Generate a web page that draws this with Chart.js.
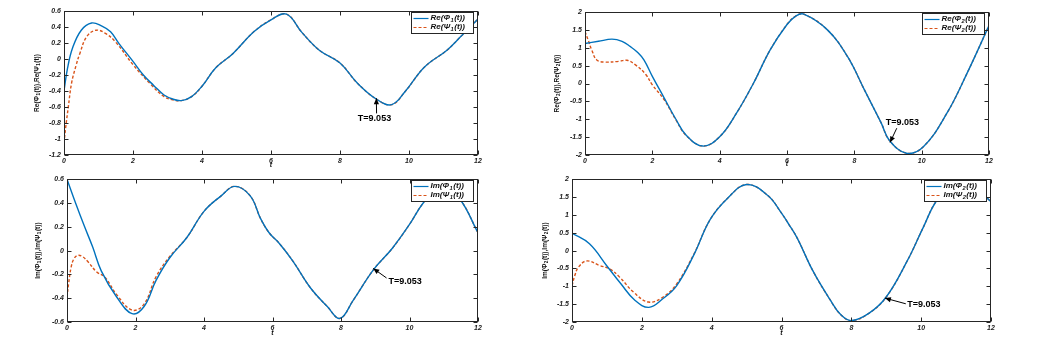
<!DOCTYPE html>
<html><head><meta charset="utf-8">
<script src="https://cdn.jsdelivr.net/npm/chart.js@4/dist/chart.umd.min.js"></script>
<style>
html,body{margin:0;padding:0;background:#fff;}
body{width:1052px;height:344px;position:relative;overflow:hidden;}
canvas{position:absolute;}
</style></head><body>
<canvas id="c1" style="left:0px;top:0px" width="500" height="172"></canvas>
<canvas id="c2" style="left:520px;top:0px" width="500" height="172"></canvas>
<canvas id="c3" style="left:0px;top:172px" width="500" height="172"></canvas>
<canvas id="c4" style="left:520px;top:172px" width="500" height="172"></canvas>
<script>
// ---------- data ----------
const xTicks = [0, 2, 4, 6, 8, 10, 12];
const yTicksRe1 = [-1.2, -1, -0.8, -0.6, -0.4, -0.2, 0, 0.2, 0.4, 0.6];
const yTicksRe2 = [-2, -1.5, -1, -0.5, 0, 0.5, 1, 1.5, 2];
const yTicksIm1 = [-0.6, -0.4, -0.2, 0, 0.2, 0.4, 0.6];
const yTicksIm2 = [-2, -1.5, -1, -0.5, 0, 0.5, 1, 1.5, 2];

const tRe1Phi = [0,0.1,0.25,0.5,0.8,1.1,1.35,1.6,2.0,2.3,2.6,2.9,3.15,3.4,3.7,4.0,4.4,4.9,5.5,6.0,6.45,6.9,7.4,8.0,8.5,9.05,9.5,9.9,10.45,11.1,11.5,12];
const re1Phi  = [-0.4,-0.12,0.14,0.36,0.45,0.41,0.34,0.19,-0.03,-0.2,-0.33,-0.45,-0.5,-0.52,-0.47,-0.34,-0.11,0.07,0.34,0.49,0.56,0.33,0.11,-0.05,-0.3,-0.5,-0.57,-0.4,-0.1,0.11,0.28,0.5];
const tRe1Psi = [0,0.05,0.125,0.22,0.35,0.46,0.66,0.93,1.2,1.5,2.0,2.5,2.9,3.15,3.4,3.7,4.0,4.4,4.9,5.5,6.0,6.45,6.9,7.4,8.0,8.5,9.05,9.5,9.9,10.45,11.1,11.5,12];
const re1Psi  = [-1.05,-0.85,-0.6,-0.3,-0.08,0.07,0.28,0.36,0.32,0.21,-0.07,-0.31,-0.47,-0.51,-0.52,-0.47,-0.34,-0.11,0.07,0.34,0.49,0.56,0.33,0.11,-0.05,-0.3,-0.5,-0.57,-0.4,-0.1,0.11,0.28,0.5];

const tRe2Phi = [0,0.4,0.8,1.1,1.35,1.55,1.75,2.0,2.35,2.7,3.0,3.5,4.0,4.5,5.0,5.5,6.0,6.25,6.5,7.2,7.8,8.3,8.8,9.05,9.55,10.05,10.75,11.35,12];
const re2Phi  = [1.12,1.18,1.24,1.18,1.03,0.88,0.66,0.2,-0.4,-1.0,-1.44,-1.75,-1.49,-0.83,0.0,0.94,1.65,1.88,1.94,1.5,0.75,-0.18,-1.11,-1.6,-1.95,-1.77,-0.83,0.29,1.62];
const tRe2Psi = [0,0.1,0.2,0.35,0.6,1.0,1.25,1.5,1.8,2.0,2.35,2.7,3.0,3.5,4.0,4.5,5.0,5.5,6.0,6.25,6.5,7.2,7.8,8.3,8.8,9.05,9.55,10.05,10.75,11.35,12];
const re2Psi  = [1.45,1.2,0.94,0.66,0.6,0.62,0.65,0.52,0.26,-0.04,-0.45,-1.02,-1.45,-1.75,-1.49,-0.83,0.0,0.94,1.65,1.88,1.94,1.5,0.75,-0.18,-1.11,-1.6,-1.95,-1.77,-0.83,0.29,1.62];

const tIm1Phi = [0,0.25,0.5,0.75,1.0,1.45,1.9,2.25,2.6,3.0,3.5,4.0,4.5,4.9,5.35,5.65,5.9,6.2,6.6,7.1,7.6,7.97,8.35,8.95,9.5,10.0,10.4,10.9,11.45,12];
const im1Phi  = [0.6,0.4,0.21,0.03,-0.17,-0.39,-0.53,-0.47,-0.25,-0.06,0.11,0.33,0.46,0.54,0.46,0.27,0.15,0.06,-0.09,-0.31,-0.47,-0.57,-0.42,-0.16,0.02,0.22,0.4,0.55,0.44,0.15];
const tIm1Psi = [0,0.05,0.12,0.2,0.31,0.45,0.6,0.87,1.1,1.45,1.9,2.25,2.6,3.0,3.5,4.0,4.5,4.9,5.35,5.65,5.9,6.2,6.6,7.1,7.6,7.97,8.35,8.95,9.5,10.0,10.4,10.9,11.45,12];
const im1Psi  = [-0.39,-0.27,-0.14,-0.07,-0.04,-0.05,-0.09,-0.18,-0.22,-0.37,-0.5,-0.45,-0.22,-0.05,0.11,0.33,0.46,0.54,0.46,0.27,0.15,0.06,-0.09,-0.31,-0.47,-0.57,-0.42,-0.16,0.02,0.22,0.4,0.55,0.44,0.15];

const tIm2Phi = [0,0.5,1.0,1.4,1.8,2.2,2.6,3.0,3.5,3.95,4.45,5.0,5.6,6.0,6.2,6.45,6.9,7.4,7.7,8.0,8.5,9.0,9.6,10.05,10.45,11.0,11.5,12];
const im2Phi  = [0.49,0.19,-0.43,-0.93,-1.39,-1.59,-1.35,-0.98,-0.1,0.86,1.46,1.85,1.55,1.05,0.75,0.35,-0.57,-1.39,-1.8,-1.96,-1.76,-1.3,-0.29,0.63,1.41,1.95,1.8,1.37];
const tIm2Psi = [0,0.08,0.18,0.42,0.8,1.09,1.37,1.76,2.19,2.61,3.0,3.5,3.95,4.45,5.0,5.6,6.0,6.2,6.45,6.9,7.4,7.7,8.0,8.5,9.0,9.6,10.05,10.45,11.0,11.5,12];
const im2Psi  = [-0.98,-0.7,-0.47,-0.29,-0.42,-0.52,-0.75,-1.16,-1.44,-1.3,-0.93,-0.08,0.86,1.46,1.85,1.55,1.05,0.75,0.35,-0.57,-1.39,-1.8,-1.96,-1.76,-1.3,-0.29,0.63,1.41,1.95,1.8,1.37];

// annotation anchors (data units): head, tail, text centre
const annRe1 = {hx:9.053, hy:-0.49, fx:9.06, fy:-0.68, tx:9.0,  ty:-0.75};
const annRe2 = {hx:9.06,  hy:-1.65, fx:9.26, fy:-1.25, tx:9.43, ty:-1.1};
const annIm1 = {hx:8.94,  hy:-0.15, fx:9.33, fy:-0.23, tx:9.87, ty:-0.26};
const annIm2 = {hx:8.96,  hy:-1.33, fx:9.56, fy:-1.49, tx:10.08,ty:-1.5};

// ---------- drawing ----------
const BLUE = '#0072BD', RED = '#D95319';
const pts = (t, v) => t.map((x, i) => ({x, y: v[i]}));

function drawRich(ctx, parts, x, y, size, italic, align) {
  const f = s => (italic ? 'italic ' : '') + 'bold ' + s + 'px "Liberation Sans", Arial, sans-serif';
  let w = 0;
  parts.forEach(p => { ctx.font = f(p[1] ? size * 0.72 : size); w += ctx.measureText(p[0]).width + (p[1] ? 1 : 0); });
  let cx = align === 'center' ? x - w / 2 : x;
  ctx.textBaseline = 'middle'; ctx.textAlign = 'left';
  parts.forEach(p => {
    ctx.font = f(p[1] ? size * 0.72 : size);
    if (p[1]) cx += 0.5;
    ctx.fillText(p[0], cx, y + (p[1] ? size * 0.3 : 0));
    cx += ctx.measureText(p[0]).width + (p[1] ? 0.5 : 0);
  });
}

const deco = {
  id: 'deco',
  afterDraw(chart, args, o) {
    const ctx = chart.ctx, a = chart.chartArea, xs = chart.scales.x, ys = chart.scales.y;
    ctx.save();
    ctx.strokeStyle = '#262626'; ctx.lineWidth = 1;
    const L = Math.round(a.left) + 0.5, R = Math.round(a.right) - 0.5, T = Math.round(a.top) + 0.5, B = Math.round(a.bottom) - 0.5;
    ctx.strokeRect(L, T, R - L, B - T);
    ctx.beginPath();
    xs.ticks.forEach(t => { const p = Math.round(xs.getPixelForValue(t.value)) + 0.5; ctx.moveTo(p, B); ctx.lineTo(p, B - 4); ctx.moveTo(p, T); ctx.lineTo(p, T + 4); });
    ys.ticks.forEach(t => { const p = Math.round(ys.getPixelForValue(t.value)) + 0.5; ctx.moveTo(L, p); ctx.lineTo(L + 4, p); ctx.moveTo(R, p); ctx.lineTo(R - 4, p); });
    ctx.stroke();
    ctx.fillStyle = '#111';
    ctx.font = 'italic bold 7px "Liberation Sans", Arial, sans-serif';
    ctx.textAlign = 'center'; ctx.textBaseline = 'middle';
    ctx.fillText('t', (a.left + a.right) / 2, a.bottom + o.tOff);
    ctx.save();
    ctx.translate(o.yTitleX, (a.top + a.bottom) / 2);
    ctx.rotate(-Math.PI / 2);
    drawRich(ctx, o.yTitle, 0, 0, 6.5, false, 'center');
    ctx.restore();
    // legend
    const bw = 62, bh = 21, bx = Math.round(a.right) - 5 - bw + 0.5, by = Math.round(a.top) + 1.5;
    ctx.fillStyle = '#fff'; ctx.fillRect(bx, by, bw, bh);
    ctx.strokeStyle = '#262626'; ctx.strokeRect(bx, by, bw, bh);
    ctx.lineWidth = 1.2;
    ctx.strokeStyle = BLUE; ctx.setLineDash([]);
    ctx.beginPath(); ctx.moveTo(bx + 2, by + 6); ctx.lineTo(bx + 17, by + 6); ctx.stroke();
    ctx.strokeStyle = RED; ctx.setLineDash([3, 2]);
    ctx.beginPath(); ctx.moveTo(bx + 2, by + 15); ctx.lineTo(bx + 17, by + 15); ctx.stroke();
    ctx.setLineDash([]);
    ctx.fillStyle = '#111';
    drawRich(ctx, o.leg[0], bx + 19, by + 5.5, 8, true, 'left');
    drawRich(ctx, o.leg[1], bx + 19, by + 14.5, 8, true, 'left');
    // annotation arrow + text
    const n = o.ann;
    const hx = xs.getPixelForValue(n.hx), hy = ys.getPixelForValue(n.hy);
    const fx = xs.getPixelForValue(n.fx), fy = ys.getPixelForValue(n.fy);
    ctx.strokeStyle = '#000'; ctx.lineWidth = 1;
    ctx.beginPath(); ctx.moveTo(fx, fy); ctx.lineTo(hx, hy); ctx.stroke();
    const ang = Math.atan2(hy - fy, hx - fx), al = 6, aw = 2.6;
    ctx.fillStyle = '#000';
    ctx.beginPath();
    ctx.moveTo(hx, hy);
    ctx.lineTo(hx - al * Math.cos(ang) + aw * Math.sin(ang), hy - al * Math.sin(ang) - aw * Math.cos(ang));
    ctx.lineTo(hx - al * Math.cos(ang) - aw * Math.sin(ang), hy - al * Math.sin(ang) + aw * Math.cos(ang));
    ctx.closePath(); ctx.fill();
    ctx.font = 'bold 9px "Liberation Sans", Arial, sans-serif';
    ctx.textAlign = 'center'; ctx.textBaseline = 'middle';
    ctx.fillText('T=9.053', xs.getPixelForValue(n.tx), ys.getPixelForValue(n.ty));
    ctx.restore();
  }
};

function makeChart(id, phiT, phiV, psiT, psiV, yTicks, cfg) {
  const tickFont = {family: '"Liberation Sans", Arial, sans-serif', size: 7, style: 'italic', weight: 'bold'};
  new Chart(document.getElementById(id), {
    type: 'line',
    data: {
      datasets: [
        {data: pts(phiT, phiV), borderColor: BLUE, borderWidth: 1.4, pointRadius: 0, tension: 0.4, fill: false},
        {data: pts(psiT, psiV), borderColor: RED, borderWidth: 1.4, borderDash: [3, 2], pointRadius: 0, tension: 0.4, fill: false}
      ]
    },
    options: {
      responsive: false, animation: false, devicePixelRatio: 1,
      layout: {padding: {top: cfg.pt, right: cfg.pr, left: 0, bottom: 0}},
      plugins: {legend: {display: false}, tooltip: {enabled: false}, deco: cfg.deco},
      scales: {
        x: {
          type: 'linear', min: 0, max: 12,
          afterBuildTicks: s => { s.ticks = xTicks.map(v => ({value: v})); },
          afterFit: s => { s.height = cfg.xh; },
          grid: {display: false, drawTicks: false}, border: {display: false},
          ticks: {font: tickFont, color: '#222', padding: 2, maxRotation: 0, autoSkip: false, callback: v => String(v)}
        },
        y: {
          type: 'linear', min: yTicks[0], max: yTicks[yTicks.length - 1],
          afterBuildTicks: s => { s.ticks = yTicks.map(v => ({value: v})); },
          afterFit: s => { s.width = cfg.yw; },
          grid: {display: false, drawTicks: false}, border: {display: false},
          ticks: {font: tickFont, color: '#222', padding: 3, autoSkip: false, callback: v => String(v)}
        }
      }
    },
    plugins: [deco]
  });
}

makeChart('c1', tRe1Phi, re1Phi, tRe1Psi, re1Psi, yTicksRe1, {pt: 11, pr: 22, xh: 17, yw: 64,
  deco: {tOff: 10, yTitleX: 37, yTitle: [['Re(Φ',0],['1',1],['(t)),Re(Ψ',0],['1',1],['(t))',0]],
         leg: [[['Re(Φ',0],['1',1],['(t))',0]], [['Re(Ψ',0],['1',1],['(t))',0]]], ann: annRe1}});
makeChart('c2', tRe2Phi, re2Phi, tRe2Psi, re2Psi, yTicksRe2, {pt: 12, pr: 31, xh: 17, yw: 65,
  deco: {tOff: 9, yTitleX: 37, yTitle: [['Re(Φ',0],['2',1],['(t)),Re(Ψ',0],['2',1],['(t))',0]],
         leg: [[['Re(Φ',0],['2',1],['(t))',0]], [['Re(Ψ',0],['2',1],['(t))',0]]], ann: annRe2}});
makeChart('c3', tIm1Phi, im1Phi, tIm1Psi, im1Psi, yTicksIm1, {pt: 5, pr: 22, xh: 22, yw: 67,
  deco: {tOff: 11, yTitleX: 38, yTitle: [['Im(Φ',0],['1',1],['(t)),Im(Ψ',0],['1',1],['(t))',0]],
         leg: [[['Im(Φ',0],['1',1],['(t))',0]], [['Im(Ψ',0],['1',1],['(t))',0]]], ann: annIm1}});
makeChart('c4', tIm2Phi, im2Phi, tIm2Psi, im2Psi, yTicksIm2, {pt: 5, pr: 29, xh: 22, yw: 52,
  deco: {tOff: 11, yTitleX: 25, yTitle: [['Im(Φ',0],['2',1],['(t)),Im(Ψ',0],['2',1],['(t))',0]],
         leg: [[['Im(Φ',0],['2',1],['(t))',0]], [['Im(Ψ',0],['2',1],['(t))',0]]], ann: annIm2}});
</script>
</body></html>
